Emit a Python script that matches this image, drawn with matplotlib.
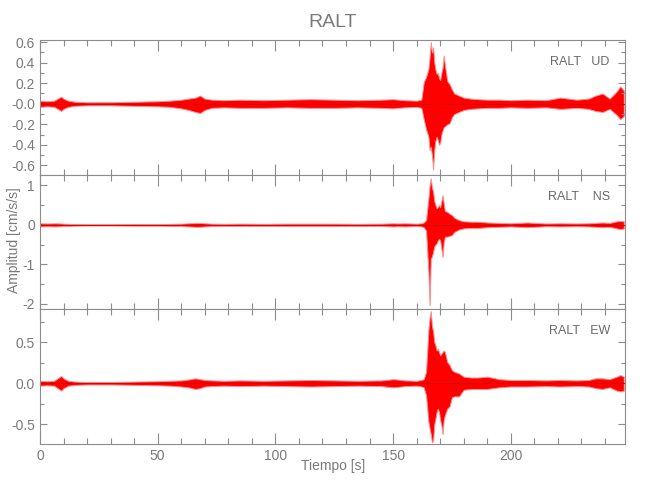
import numpy as np
import matplotlib
matplotlib.use("Agg")
import matplotlib.pyplot as plt
from matplotlib.ticker import MultipleLocator, FixedLocator, FixedFormatter

plt.rcParams['font.family'] = ['Liberation Sans', 'DejaVu Sans']

# time knots [s] where the envelope of each trace was read
t_knots = [0, 3, 6, 9, 10, 12, 15, 20, 30, 40,
           50, 55, 60, 63, 66, 68, 70, 73, 78, 85,
           95, 105, 115, 125, 135, 145, 150, 152, 155, 160,
           162, 163, 164, 165, 165.5, 166, 166.5, 167, 167.5, 168,
           168.5, 169, 169.5, 170, 170.5, 171, 171.5, 172, 173, 174,
           175, 176, 178, 180, 183, 186, 190, 195, 200, 207,
           215, 221, 228, 233, 236, 239, 242, 245, 246.5, 248]

# UD component, upper / lower envelope [cm/s/s]
ud_hi = [0.03, 0.025, 0.03, 0.07, 0.05, 0.03, 0.02, 0.015, 0.015, 0.02,
         0.025, 0.03, 0.04, 0.05, 0.06, 0.08, 0.05, 0.04, 0.035, 0.04,
         0.035, 0.04, 0.045, 0.04, 0.035, 0.04, 0.045, 0.04, 0.035, 0.03,
         0.04, 0.21, 0.26, 0.34, 0.45, 0.60, 0.50, 0.55, 0.40, 0.33,
         0.29, 0.30, 0.25, 0.23, 0.30, 0.35, 0.47, 0.38, 0.22, 0.19,
         0.14, 0.10, 0.08, 0.06, 0.05, 0.045, 0.04, 0.04, 0.035, 0.04,
         0.035, 0.06, 0.04, 0.05, 0.08, 0.10, 0.05, 0.12, 0.17, 0.13]
ud_lo = [-0.03, -0.025, -0.03, -0.07, -0.05, -0.03, -0.02, -0.015, -0.015, -0.02,
         -0.025, -0.03, -0.045, -0.06, -0.08, -0.09, -0.06, -0.04, -0.035, -0.04,
         -0.04, -0.035, -0.04, -0.04, -0.035, -0.04, -0.045, -0.04, -0.035, -0.03,
         -0.04, -0.15, -0.25, -0.32, -0.45, -0.42, -0.50, -0.64, -0.45, -0.36,
         -0.32, -0.35, -0.40, -0.38, -0.30, -0.26, -0.23, -0.22, -0.20, -0.19,
         -0.13, -0.10, -0.08, -0.06, -0.05, -0.045, -0.04, -0.04, -0.035, -0.04,
         -0.035, -0.05, -0.04, -0.05, -0.07, -0.08, -0.05, -0.11, -0.15, -0.12]

# NS component
ns_hi = [0.04, 0.035, 0.04, 0.035, 0.03, 0.025, 0.02, 0.015, 0.015, 0.02,
         0.02, 0.025, 0.03, 0.04, 0.05, 0.05, 0.04, 0.03, 0.025, 0.03,
         0.025, 0.03, 0.03, 0.03, 0.025, 0.03, 0.04, 0.035, 0.04, 0.03,
         0.04, 0.06, 0.12, 0.67, 1.00, 1.18, 0.95, 0.84, 0.60, 0.50,
         0.42, 0.45, 0.50, 0.45, 0.60, 0.75, 0.55, 0.35, 0.33, 0.28,
         0.25, 0.18, 0.12, 0.09, 0.08, 0.08, 0.06, 0.05, 0.04, 0.06,
         0.035, 0.04, 0.035, 0.04, 0.05, 0.06, 0.05, 0.09, 0.10, 0.09]
ns_lo = [-0.04, -0.035, -0.04, -0.035, -0.03, -0.025, -0.02, -0.015, -0.015, -0.02,
         -0.02, -0.025, -0.03, -0.04, -0.05, -0.05, -0.04, -0.03, -0.025, -0.03,
         -0.025, -0.03, -0.03, -0.03, -0.025, -0.03, -0.04, -0.035, -0.04, -0.03,
         -0.04, -0.06, -0.15, -1.20, -2.04, -0.86, -0.80, -0.69, -0.55, -0.50,
         -0.47, -0.40, -0.35, -0.40, -0.60, -0.81, -0.45, -0.30, -0.30, -0.28,
         -0.26, -0.18, -0.12, -0.09, -0.08, -0.08, -0.06, -0.05, -0.04, -0.06,
         -0.035, -0.04, -0.035, -0.04, -0.05, -0.06, -0.05, -0.09, -0.11, -0.09]

# EW component
ew_hi = [0.03, 0.025, 0.03, 0.09, 0.06, 0.03, 0.02, 0.015, 0.015, 0.02,
         0.025, 0.03, 0.035, 0.045, 0.06, 0.05, 0.04, 0.035, 0.03, 0.035,
         0.03, 0.035, 0.04, 0.035, 0.03, 0.035, 0.05, 0.045, 0.035, 0.03,
         0.04, 0.05, 0.14, 0.65, 0.80, 0.88, 0.70, 0.63, 0.50, 0.46,
         0.40, 0.42, 0.38, 0.34, 0.36, 0.38, 0.40, 0.38, 0.26, 0.22,
         0.16, 0.14, 0.12, 0.08, 0.07, 0.07, 0.08, 0.05, 0.04, 0.04,
         0.035, 0.04, 0.035, 0.04, 0.06, 0.06, 0.05, 0.08, 0.10, 0.08]
ew_lo = [-0.03, -0.025, -0.03, -0.09, -0.06, -0.03, -0.02, -0.015, -0.015, -0.02,
         -0.025, -0.03, -0.04, -0.05, -0.07, -0.06, -0.04, -0.035, -0.03, -0.035,
         -0.03, -0.035, -0.04, -0.035, -0.03, -0.035, -0.05, -0.045, -0.035, -0.03,
         -0.04, -0.05, -0.15, -0.47, -0.55, -0.62, -0.72, -0.70, -0.50, -0.43,
         -0.35, -0.31, -0.35, -0.45, -0.51, -0.62, -0.45, -0.39, -0.31, -0.28,
         -0.17, -0.16, -0.16, -0.08, -0.07, -0.07, -0.07, -0.05, -0.04, -0.04,
         -0.035, -0.04, -0.035, -0.04, -0.06, -0.07, -0.05, -0.09, -0.10, -0.09]

comp_names = ['RALT   UD', 'RALT    NS', 'RALT   EW']
ylims = [(-0.69, 0.62), (-2.14, 1.27), (-0.74, 0.90)]
yticks = [[0.6, 0.4, 0.2, 0.0, -0.2, -0.4, -0.6], [1, 0, -1, -2], [0.5, 0.0, -0.5]]
ylabels = [['0.6', '0.4', '0.2', '-0.0', '-0.2', '-0.4', '-0.6'],
           ['1', '0', '-1', '-2'], ['0.5', '0.0', '-0.5']]
yminor = [0.1, 0.5, 0.25]
xticks = [0, 50, 100, 150, 200]

gray = '#8c8c8c'
txt = '#7a7a7a'

fig = plt.figure(figsize=(6.5, 5), dpi=100)
h = 0.2693
bottoms = [0.112 + 2 * h, 0.112 + h, 0.112]
data = [(ud_hi, ud_lo), (ns_hi, ns_lo), (ew_hi, ew_lo)]

t = np.array(t_knots)
for i in range(3):
    ax = fig.add_axes([0.0615, bottoms[i], 0.9, h])
    hi, lo = data[i]
    ax.fill_between(t, lo, hi, facecolor='#ff0000', edgecolor='#ff9090', lw=0.7)
    ax.axhline(0, color='#e00000', lw=0.8)
    ax.set_xlim(0, 248.5)
    ax.set_ylim(*ylims[i])
    ax.yaxis.set_major_locator(FixedLocator(yticks[i]))
    ax.yaxis.set_major_formatter(FixedFormatter(ylabels[i]))
    ax.yaxis.set_minor_locator(MultipleLocator(yminor[i]))
    ax.xaxis.set_major_locator(FixedLocator(xticks))
    ax.xaxis.set_minor_locator(MultipleLocator(10))
    ax.tick_params(which='both', direction='in', top=True, right=True,
                   color=gray, labelcolor=txt, labelsize=10, width=0.8)
    ax.tick_params(axis='x', which='major', length=8)
    ax.tick_params(axis='x', which='minor', length=4)
    ax.tick_params(axis='y', which='major', length=5)
    ax.tick_params(axis='y', which='minor', length=3)
    for s in ax.spines.values():
        s.set_color(gray)
        s.set_linewidth(0.8)
    if i < 2:
        ax.set_xticklabels([])
    ax.text(0.974, 0.837, comp_names[i], transform=ax.transAxes,
            ha='right', va='center', color='#6a6a6a', fontsize=9)

fig.text(0.512, 0.955, 'RALT', ha='center', va='center', color=txt, fontsize=14)
fig.text(0.512, 0.068, 'Tiempo [s]', ha='center', va='center', color=txt, fontsize=10)
fig.text(0.022, 0.52, 'Amplitud [cm/s/s]', ha='center', va='center',
         rotation=90, color=txt, fontsize=10)

fig.savefig('out.png', dpi=100, facecolor='white')
